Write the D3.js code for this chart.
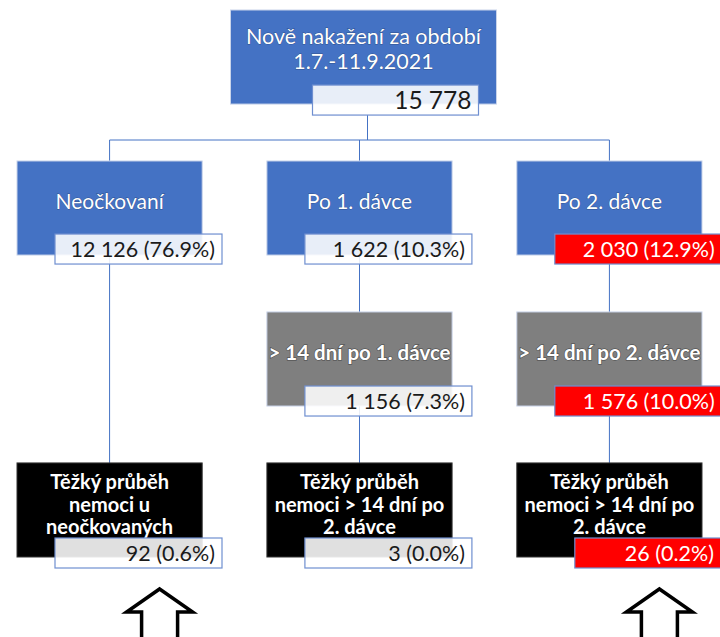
<!DOCTYPE html>
<html>
<head>
<meta charset="utf-8">
<script src="https://cdn.jsdelivr.net/npm/d3@7"></script>
<style>
  body { margin: 0; background: #fff; }
  svg { display: block; font-family: Lato, "Open Sans", sans-serif; }
</style>
</head>
<body>
<div id="chart"></div>
<script>
// data
var titleLines = ["Nově nakažení za období", "1.7.-11.9.2021"];
var total = 15778;
var groups = ["Neočkovaní", "Po 1. dávce", "Po 2. dávce"];
var level1 = [12126, 1622, 2030];
var level2Labels = [null, "> 14 dní po 1. dávce", "> 14 dní po 2. dávce"];
var level2 = [null, 1156, 1576];
var level3Labels = [
    ["Těžký průběh", "nemoci u", "neočkovaných"],
    ["Těžký průběh", "nemoci > 14 dní po", "2. dávce"],
    ["Těžký průběh", "nemoci > 14 dní po", "2. dávce"]
];
var level3 = [92, 3, 26];
var highlighted = [false, false, true];
var arrowsUnder = ["Neočkovaní", "Po 2. dávce"];
var rows = ["top", "l1", "l2", "l3"];

var W = 720, H = 637;
var BLUE = "#4472c4", GRAY = "#7f7f7f", RED = "#ff0000", LINE = "#4472c4";

var locale = d3.formatLocale({decimal: ".", thousands: " ", grouping: [3], currency: ["", ""]});
var fmtNum = locale.format(",d");
var fmtPct = d3.format(".1f");
var label = function(v) { return fmtNum(v) + " (" + fmtPct(v / total * 100) + "%)"; };

var svg = d3.select("#chart").append("svg").attr("width", W).attr("height", H);

var x = d3.scaleBand().domain(groups).range([17, 702]).paddingInner(0.259);
var y = d3.scaleBand().domain(rows).range([10, 557]).paddingInner(0.377);
var bw = x.bandwidth(), bh = y.bandwidth();
var cx = function(g) { return x(g) + bw / 2; };

var linesG = svg.append("g"), boxG = svg.append("g"), valG = svg.append("g");

// top box sits a bit wider than the columns
var topW = 266, topCx = cx(groups[1]) + 4;
var topL = topCx - topW / 2;
var valH = 30;
var topVal = {x: topL + 82, y: y("top") + bh - 19, w: 166};

/***************************
 * connector lines
 ***************************/
var busY = 140;
var line = function(x1, y1, x2, y2) {
    linesG.append("line").attr("x1", x1).attr("y1", y1).attr("x2", x2).attr("y2", y2)
        .attr("stroke", LINE).attr("stroke-width", 1);
};
line(topCx + 4, topVal.y + valH, topCx + 4, busY);
line(cx(groups[0]), busY, cx(groups[2]), busY);
groups.forEach(function(g, i) {
    line(cx(g), busY, cx(g), y("l1"));
    var from = y("l1") + bh;
    if (level2[i] != null) {
        line(cx(g), from, cx(g), y("l2"));
        from = y("l2") + bh;
    }
    line(cx(g), from, cx(g), y("l3"));
});

/***************************
 * boxes
 ***************************/
var box = function(x0, y0, w, h, fill) {
    boxG.append("rect").attr("x", x0).attr("y", y0).attr("width", w).attr("height", h)
        .attr("fill", fill).attr("stroke", fill == "#000" ? "#333" : "#c9d4ea").attr("stroke-width", 1);
};
var textLines = function(lines, xc, yc, size, bold, lh) {
    var t = boxG.append("text").attr("text-anchor", "middle").attr("fill", "#fff")
        .attr("font-size", size).attr("font-weight", bold ? 700 : 400)
        .style("paint-order", "stroke").attr("stroke", "rgba(0,0,0,0.35)").attr("stroke-width", bold ? 1.5 : 0.8);
    var y0 = yc - (lines.length - 1) * lh / 2;
    lines.forEach(function(s, k) {
        t.append("tspan").attr("x", xc).attr("y", y0 + k * lh).attr("dy", "0.35em").text(s);
    });
};
var valueBox = function(x0, y0, w, txt, hot, size) {
    valG.append("rect").attr("x", x0).attr("y", y0).attr("width", w).attr("height", valH)
        .attr("fill", hot ? RED : "rgba(255,255,255,0.88)")
        .attr("stroke", "#6f8fd0").attr("stroke-width", 1.2);
    valG.append("text").attr("x", x0 + w - 7).attr("y", y0 + valH / 2).attr("dy", "0.36em")
        .attr("text-anchor", "end").attr("font-size", size || 21.5)
        .attr("fill", hot ? "#fff" : "#1a1a1a").text(txt);
};

// top node
box(topL, y("top"), topW, bh, BLUE);
textLines(titleLines, topCx, y("top") + 39, 21.5, false, 25);
valueBox(topVal.x, topVal.y, topVal.w, fmtNum(total), false, 24.5);

groups.forEach(function(g, i) {
    var vx = x(g) + 38, vw = 167;
    box(x(g), y("l1"), bw, bh, BLUE);
    textLines([g], cx(g), y("l1") + 41, 21, false, 24);
    valueBox(vx, y("l1") + bh - 21, vw, label(level1[i]), highlighted[i]);

    if (level2[i] != null) {
        box(x(g), y("l2"), bw, bh, GRAY);
        textLines([level2Labels[i]], cx(g), y("l2") + 41, 20.5, true, 22);
        valueBox(vx, y("l2") + bh - 20, vw, label(level2[i]), highlighted[i]);
    }

    box(x(g), y("l3"), bw, bh, "#000");
    textLines(level3Labels[i], cx(g), y("l3") + 42, 20, true, 22.5);
    // the red one in the last row starts further right and runs to the edge
    var lx = highlighted[i] ? vx + 20 : vx;
    valueBox(lx, y("l3") + bh - 19, highlighted[i] ? W - lx + 1 : vw,
        label(level3[i]), highlighted[i]);
});

/***************************
 * outline arrows
 ***************************/
arrowsUnder.forEach(function(g) {
    var ax = cx(g) + 50, top = 589;
    var pts = [[ax, top], [ax + 33, top + 23], [ax + 18, top + 23], [ax + 18, H + 5],
               [ax - 18, H + 5], [ax - 18, top + 23], [ax - 33, top + 23]];
    svg.append("path").attr("d", d3.line()(pts) + "Z")
        .attr("fill", "#fff").attr("stroke", "#000").attr("stroke-width", 3.5)
        .attr("stroke-linejoin", "miter");
});
</script>
</body>
</html>
